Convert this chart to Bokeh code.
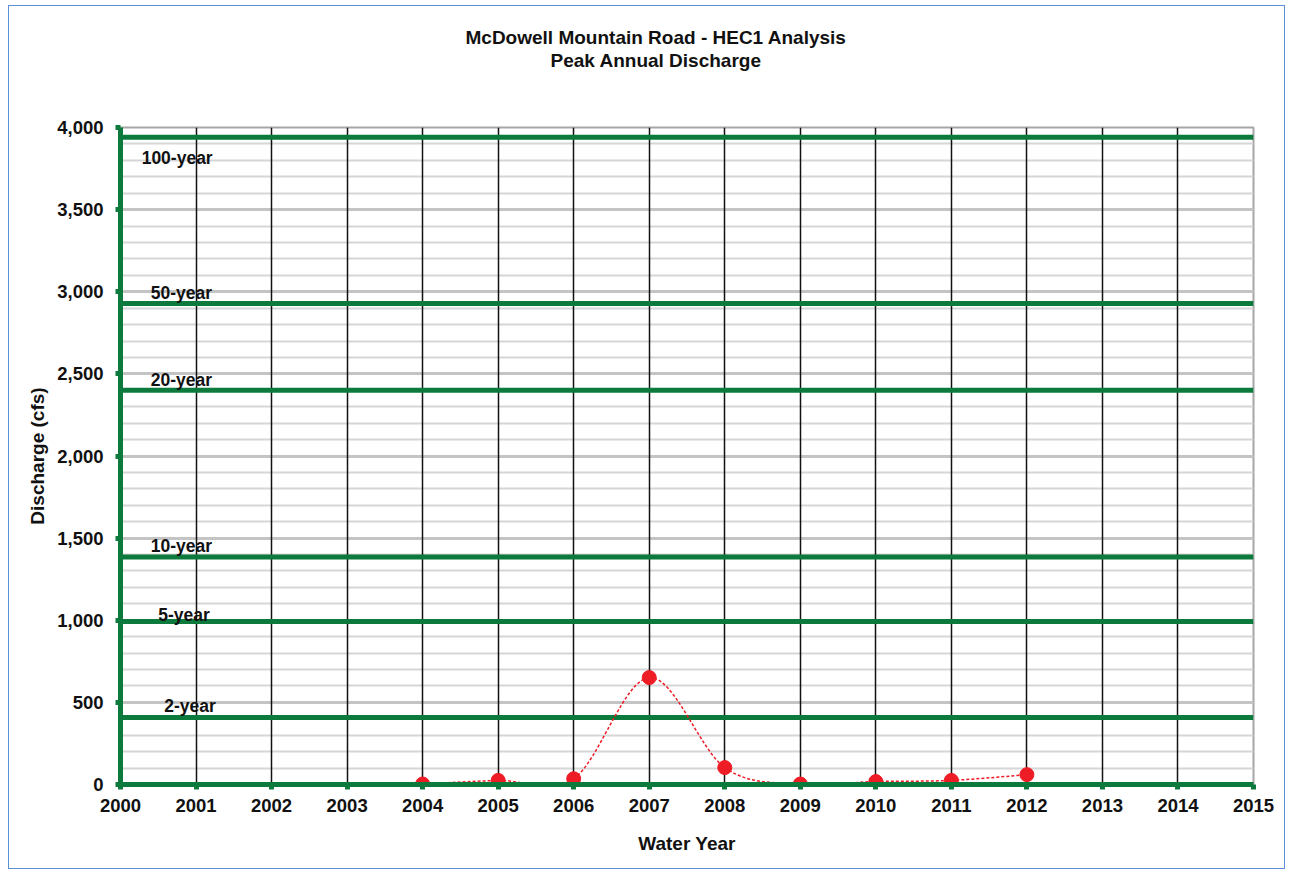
from bokeh.plotting import figure
from bokeh.models import Range1d, SingleIntervalTicker, NumeralTickFormatter, Title
from bokeh.core.properties import value
from bokeh.embed import file_html
from bokeh.resources import INLINE

# ---- data ----
years = [2004, 2005, 2006, 2007, 2008, 2009, 2010, 2011, 2012]
discharge = [3, 25, 35, 651, 103, 3, 18, 25, 60]

return_labels = ["100-year", "50-year", "20-year", "10-year", "5-year", "2-year"]
return_values = [3940, 2928, 2400, 1385, 992, 408]
# label placement (left edge x in years, centre y in cfs)
label_x = [2000.28, 2000.40, 2000.40, 2000.40, 2000.50, 2000.58]
label_y = [3817, 2995, 2460, 1455, 1029, 475]

x_start, x_end = 2000, 2015
y_start, y_end = 0, 4000

GREEN = "#0b7a3c"
RED = "#ee1c25"
FONT = "Liberation Sans"

p = figure(width=1277, height=864, output_backend="svg", toolbar_location=None,
           x_range=Range1d(x_start, x_end), y_range=Range1d(y_start, y_end),
           min_border_left=111, min_border_right=33, min_border_top=121, min_border_bottom=86)
p.styles = {"border": "1px solid #5b8fd6", "margin": "5px 0 0 8px"}
p.background_fill_color = "white"
p.border_fill_color = "white"
p.outline_line_color = "#a6a6a6"
p.outline_line_width = 2

# titles (a blank spacer title keeps the two title lines up near the top)
p.title = None
spacer = Title(text=" ", align="center", text_font=FONT, text_font_size="19px", standoff=34)
t2 = Title(text="Peak Annual Discharge", align="left", offset=430, text_font=FONT,
           text_font_size="19px", text_font_style="bold", text_color="#111111", standoff=0)
t1 = Title(text="McDowell Mountain Road - HEC1 Analysis", align="left", offset=345, text_font=FONT,
           text_font_size="19px", text_font_style="bold", text_color="#111111", standoff=0)
p.add_layout(spacer, "above")
p.add_layout(t2, "above")
p.add_layout(t1, "above")

# axes
p.xaxis.ticker = SingleIntervalTicker(interval=1, num_minor_ticks=0)
p.yaxis.ticker = SingleIntervalTicker(interval=500, num_minor_ticks=5)
p.yaxis.formatter = NumeralTickFormatter(format="0,0")
for ax in (p.xaxis[0], p.yaxis[0]):
    ax.axis_line_color = GREEN
    ax.axis_line_width = 5
    ax.major_tick_line_color = GREEN
    ax.major_tick_line_width = 5
    ax.major_tick_out = 5
    ax.major_tick_in = 0
    ax.minor_tick_line_color = None
    ax.major_label_text_font = FONT
    ax.major_label_text_font_size = "18.5px"
    ax.major_label_text_font_style = "bold"
    ax.major_label_text_color = "#111111"
    ax.axis_label_text_font = FONT
    ax.axis_label_text_font_size = "19px"
    ax.axis_label_text_font_style = "bold"
    ax.axis_label_text_color = "#111111"
p.xaxis.axis_label = "Water Year"
p.yaxis.axis_label = "Discharge (cfs)"
p.xaxis.major_label_standoff = 9
p.yaxis.major_label_standoff = 12
p.xaxis.axis_label_standoff = 18
p.yaxis.axis_label_standoff = 6

# grids
p.xgrid.grid_line_color = "#111111"
p.xgrid.grid_line_width = 1.5
p.ygrid.level = "image"
p.ygrid.grid_line_color = "#c4c4c4"
p.ygrid.grid_line_width = 3
p.ygrid.minor_grid_line_color = "#d6d6d6"
p.ygrid.minor_grid_line_width = 2

# return-period lines
n = len(return_values)
p.segment(x0=[x_start] * n, x1=[x_end] * n, y0=return_values, y1=return_values,
          line_color=GREEN, line_width=5)
p.text(x=label_x, y=label_y, text=return_labels, text_font=value(FONT),
       text_font_size="17.5px", text_font_style="bold", text_color="#111111",
       text_align="left", text_baseline="middle")

# smoothed dotted line (Catmull-Rom bezier through observed points)
xs, ys = years, discharge
x0s, y0s, x1s, y1s, cx0, cy0, cx1, cy1 = [], [], [], [], [], [], [], []
for i in range(len(xs) - 1):
    xp, yp = (xs[i - 1], ys[i - 1]) if i > 0 else (xs[i], ys[i])
    xn2, yn2 = (xs[i + 2], ys[i + 2]) if i + 2 < len(xs) else (xs[i + 1], ys[i + 1])
    x0s.append(xs[i]); y0s.append(ys[i]); x1s.append(xs[i + 1]); y1s.append(ys[i + 1])
    cx0.append(xs[i] + (xs[i + 1] - xp) / 6); cy0.append(ys[i] + (ys[i + 1] - yp) / 6)
    cx1.append(xs[i + 1] - (xn2 - xs[i]) / 6); cy1.append(ys[i + 1] - (yn2 - ys[i]) / 6)
p.bezier(x0=x0s, y0=y0s, x1=x1s, y1=y1s, cx0=cx0, cy0=cy0, cx1=cx1, cy1=cy1,
         line_color=RED, line_width=1.5, line_dash="3 2")
p.scatter(x=years, y=discharge, size=14, fill_color=RED, line_color=RED, marker="circle")

open("out.html", "w").write(file_html(p, INLINE))
